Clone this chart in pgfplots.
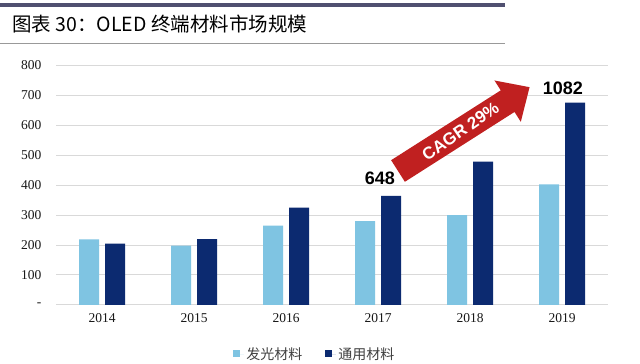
\documentclass[border=0pt]{standalone}
\usepackage{fontspec}
\setmainfont{Liberation Serif}
\newfontfamily\cjk{Noto Sans CJK SC}
\newfontfamily\arialfont{Liberation Sans}
\usepackage{pgfplots}
\pgfplotsset{compat=1.18}
\definecolor{lightb}{RGB}{127,196,226}
\definecolor{darkb}{RGB}{12,42,112}
\definecolor{arrowred}{RGB}{192,32,32}
\definecolor{gridc}{RGB}{217,217,217}
\definecolor{topline}{RGB}{80,80,112}
\begin{document}
\begin{tikzpicture}[x=1pt,y=1pt]
\path[use as bounding box] (0,0) rectangle (640,364);
\fill[white] (0,0) rectangle (640,364);
\fill[topline] (0,357) rectangle (505,360.5);
\fill[black!40] (0,320.3) rectangle (505,321.3);
\node[anchor=west, inner sep=0pt, font=\cjk\fontsize{19.5}{19.5}\selectfont] at (12,340) {图表 30：OLED 终端材料市场规模};
\begin{axis}[
  at={(56pt,59pt)}, anchor=south west, scale only axis,
  width=552pt, height=240pt,
  ymin=0, ymax=800, xmin=-0.5, xmax=5.5,
  ybar=6pt, bar width=20pt,
  ytick={0,100,...,800},
  yticklabels={-,100,200,300,400,500,600,700,800},
  xtick={0,1,2,3,4,5},
  xticklabels={2014,2015,2016,2017,2018,2019},
  ymajorgrids, grid style={gridc, line width=1pt},
  axis line style={draw=none},
  major tick length=0pt,
  tick label style={font=\fontsize{13.5}{13.5}\selectfont, text=black!90},
  xticklabel style={yshift=-5pt},
  yticklabel style={xshift=-11pt},
  legend style={at={(0.469,-0.204)}, anchor=center, draw=none, fill=none,
    legend columns=2, font=\cjk\fontsize{14}{14}\selectfont, text=black!75,
    /tikz/every even column/.append style={column sep=21pt}},
]
\addplot[fill=lightb, draw=none, legend image code/.code={\fill[lightb] (0pt,-3pt) rectangle (6.5pt,3.5pt); \path (0pt,0pt) rectangle (11pt,0pt);}]
  coordinates {(0,219) (1,198) (2,265) (3,280) (4,300) (5,402)};
\addlegendentry{发光材料}
\addplot[fill=darkb, draw=none, legend image code/.code={\fill[darkb] (0pt,-3pt) rectangle (6.5pt,3.5pt); \path (0pt,0pt) rectangle (11pt,0pt);}]
  coordinates {(0,205) (1,220) (2,325) (3,364) (4,478) (5,675)};
\addlegendentry{通用材料}
\node[font=\arialfont\bfseries\fontsize{18}{18}\selectfont] at (axis cs:3.02,423) {648};
\node[font=\arialfont\bfseries\fontsize{18}{18}\selectfont] at (axis cs:5.01,723) {1082};
\end{axis}
\begin{scope}[shift={(398,193)}, rotate=32.5]
\fill[arrowred] (0,-12.8) -- (130,-12.8) -- (130,-24.5) -- (156,0) -- (130,24.5) -- (130,12.8) -- (0,12.8) -- cycle;
\node[white, inner sep=0pt, rotate=34.5, font=\arialfont\bfseries\fontsize{17}{17}\selectfont] at (74,0) {CAGR 29\%};
\end{scope}
\end{tikzpicture}
\end{document}
